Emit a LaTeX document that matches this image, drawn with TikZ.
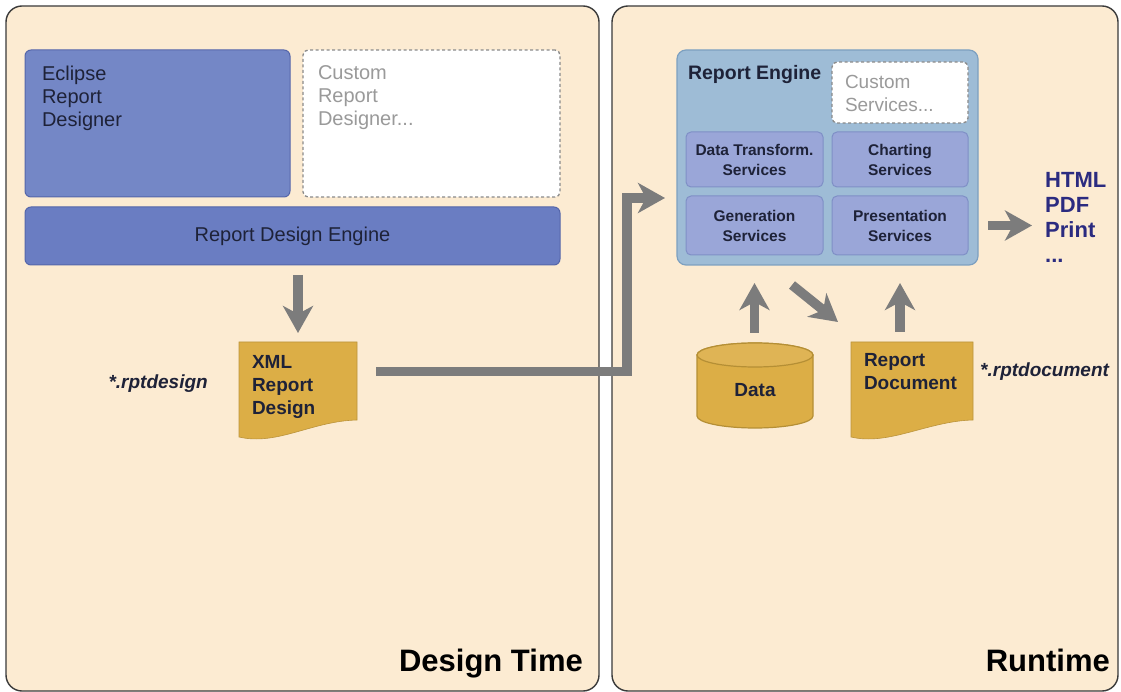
\documentclass[tikz,border=0pt]{standalone}
\usepackage{fontspec}
\setmainfont{Liberation Sans}
\usetikzlibrary{arrows.meta,calc}

\definecolor{panelfill}{HTML}{FCEBD2}
\definecolor{panelline}{HTML}{3A3A3A}
\definecolor{eclipsefill}{HTML}{7487C6}
\definecolor{rdefill}{HTML}{6A7DC2}
\definecolor{designline}{HTML}{5566AA}
\definecolor{enginefill}{HTML}{9EBCD6}
\definecolor{engineline}{HTML}{7DA0C0}
\definecolor{svcfill}{HTML}{9AA6D8}
\definecolor{svcline}{HTML}{7F8FC6}
\definecolor{gold}{HTML}{DCAE46}
\definecolor{goldline}{HTML}{B58F35}
\definecolor{flowgray}{HTML}{7C7C7C}
\definecolor{darktext}{HTML}{1E2238}
\definecolor{softtext}{HTML}{9A9A9A}
\definecolor{dashline}{HTML}{8A8A8A}
\definecolor{navytext}{HTML}{2B2B80}

\pgfdeclarelayer{bg}
\pgfdeclarelayer{shapes}
\pgfsetlayers{bg,shapes,main}

\begin{document}
\begin{tikzpicture}[x=1pt,y=-1pt,
  panel/.style={draw=panelline, line width=1.4pt, fill=panelfill, rounded corners=16pt, inner sep=0pt, outer sep=0pt},
  designbox/.style={draw=designline, line width=1pt, rounded corners=6pt, outer sep=0pt, text=darktext,
    font=\fontsize{20}{23}\selectfont},
  dashbox/.style={draw=dashline, line width=1.3pt, dash pattern=on 3pt off 2.5pt, fill=white, rounded corners=5pt,
    outer sep=0pt, text=softtext},
  enginebox/.style={draw=engineline, line width=1.2pt, fill=enginefill, rounded corners=9pt, outer sep=0pt,
    text=darktext, font=\fontsize{19.5}{23}\selectfont\bfseries},
  svc/.style={draw=svcline, line width=1pt, fill=svcfill, rounded corners=5pt, outer sep=0pt, inner sep=0pt,
    align=center, text=darktext, font=\fontsize{15.5}{20}\selectfont\bfseries},
  docnode/.style={outer sep=0pt, text=darktext, font=\fontsize{19}{23}\selectfont\bfseries},
  docfill/.style={fill=gold, draw=gold!85!black, line width=0.6pt},
  cylfill/.style={fill=gold, draw=goldline, line width=1.2pt},
  flow/.style={draw=flowgray, line width=9.5pt, line cap=butt, line join=miter,
    -{Stealth[length=27pt,width=30pt,inset=8pt]}},
  exttext/.style={inner sep=0pt, text=darktext, font=\fontsize{19}{23}\selectfont\bfseries\itshape},
  titletext/.style={inner sep=0pt, text=black, font=\fontsize{31}{36}\selectfont\bfseries},
  outtext/.style={inner sep=0pt, align=left, text=navytext, font=\fontsize{22}{25}\selectfont\bfseries}
]
\useasboundingbox (0,0) rectangle (1121,692);

% page background and the two stage panels
\begin{pgfonlayer}{bg}
  \fill[white] (0,0) rectangle (1121,692);
  \node[panel, minimum width=593pt, minimum height=685pt] (designtime) at (302.5,348.5) {};
  \node[panel, minimum width=506pt, minimum height=685pt] (runtime) at (865,348.5) {};
\end{pgfonlayer}

% design time: designers and design engine
\node[designbox, fill=eclipsefill, anchor=north west, inner xsep=17pt, inner ysep=15.8pt] (eclipse) at (25,50)
  {\parbox[c][115.4pt][t]{231pt}{Eclipse\\Report\\Designer}};
\node[dashbox, font=\fontsize{20}{23}\selectfont, anchor=north west, inner xsep=15pt, inner ysep=15.8pt] (customdesigner) at (303,50)
  {\parbox[c][115.4pt][t]{227pt}{Custom\\Report\\Designer...}};
\node[designbox, fill=rdefill, minimum width=535pt, minimum height=58pt, inner sep=0pt] (rde) at (292.5,236)
  {Report Design Engine};

% design document
\node[docnode, anchor=north west, inner xsep=13pt, inner ysep=13pt] (xml) at (239,342)
  {\parbox[c][69pt][t]{92pt}{XML\\Report\\Design}};
\node[exttext, anchor=east] (rptdesign) at (208,384) {*.rptdesign};

% runtime: report engine and its services
\node[enginebox, anchor=north west, inner xsep=11pt, inner ysep=15pt] (engine) at (677,50)
  {\parbox[c][185pt][t]{279pt}{Report Engine}};
\node[dashbox, font=\fontsize{19}{23}\selectfont, anchor=north west, inner xsep=13pt, inner ysep=13.2pt] (customsvc) at (832,62)
  {\parbox[c][34.6pt][t]{110pt}{Custom\\Services...}};
\node[svc, minimum width=137pt, minimum height=55pt] (dts) at (754.5,159.5) {Data Transform.\\Services};
\node[svc, minimum width=136pt, minimum height=55pt] (chart) at (900,159.5) {Charting\\Services};
\node[svc, minimum width=137pt, minimum height=59pt] (gen) at (754.5,225.5) {Generation\\Services};
\node[svc, minimum width=136pt, minimum height=59pt] (pres) at (900,225.5) {Presentation\\Services};

% output formats
\node[outtext, anchor=north west] (out) at (1045,172) {HTML\\PDF\\Print\\...};

% data source and report document
\node[inner sep=0pt, outer sep=0pt, minimum width=116pt, minimum height=85pt, text height=22pt,
  text=darktext, font=\fontsize{19}{23}\selectfont\bfseries] (data) at (755,385.5) {Data};
\node[docnode, anchor=north west, inner xsep=13pt, inner ysep=11pt] (rdoc) at (851,342)
  {\parbox[c][73pt][t]{96pt}{Report\\Document}};
\node[exttext, anchor=west] (rptdocument) at (980,372) {*.rptdocument};

% shapes behind the texts
\begin{pgfonlayer}{shapes}
  \path[docfill] (xml.north west) -- (xml.north east) -- ([yshift=17pt]xml.south east)
    .. controls +(-45pt,-1pt) and +(38pt,-9pt) .. (xml.south west) -- cycle;
  \path[docfill] (rdoc.north west) -- (rdoc.north east) -- ([yshift=17pt]rdoc.south east)
    .. controls +(-45pt,-1pt) and +(38pt,-9pt) .. (rdoc.south west) -- cycle;
  \path[cylfill] ([yshift=-12pt]data.north west) -- ([yshift=12pt]data.south west)
    arc[start angle=180, end angle=360, x radius=58pt, y radius=12pt]
    -- ([yshift=-12pt]data.north east)
    arc[start angle=0, end angle=180, x radius=58pt, y radius=12pt] -- cycle;
  \draw[goldline, line width=1.2pt, fill=gold!92!white] ([yshift=-12pt]data.north)
    ellipse[x radius=58pt, y radius=12pt];
\end{pgfonlayer}

% flows
\draw[flow, shorten <=10pt, shorten >=9pt] (rde.south -| xml.north) -- (xml.north);
\coordinate (bend) at (627,198);
\draw[flow, shorten <=19pt, shorten >=12pt] ([yshift=18pt]xml.east) -| (bend) -- (engine.west |- bend);
\draw[flow, shorten <=10pt, shorten >=13pt] (engine.east |- pres) -- (out.west |- pres);
\draw[flow, shorten <=10pt, shorten >=18pt] (data.north -| gen.south) -- (gen.south |- engine.south);
\draw[flow, shorten <=10pt, shorten >=18pt] (pres.south |- rdoc.north) -- (pres.south |- engine.south);
\coordinate (diagA) at (792,285);
\coordinate (diagB) at ([shift={(-13pt,20pt)}]rdoc.north west);
\draw[flow] (diagA) -- (diagB);

% stage titles
\node[titletext, anchor=base east] (dtlabel) at (583,671) {Design Time};
\node[titletext, anchor=base east] (rtlabel) at (1110,671) {Runtime};
\end{tikzpicture}
\end{document}
